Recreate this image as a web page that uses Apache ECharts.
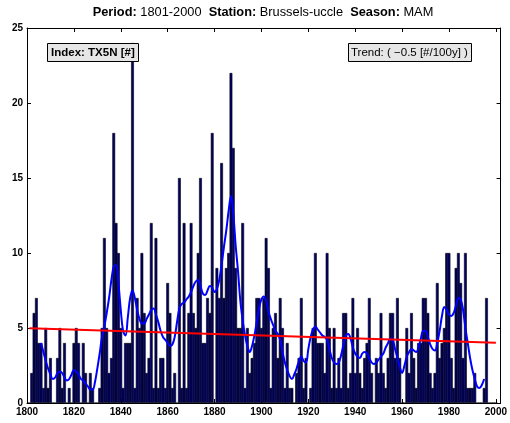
<!DOCTYPE html>
<html><head><meta charset="utf-8">
<script src="https://cdn.jsdelivr.net/npm/echarts@6/dist/echarts.min.js"></script>
<style>html,body{margin:0;padding:0;background:#fff}#c{width:510px;height:423px}</style>
</head><body><div id="c"></div>
<script>
// ---- data ----
const startYear = 1801;
const counts = [
  0,2,6,7,4,4,1,5,1,3,
  0,0,3,5,1,4,0,1,0,4,
  5,4,0,4,2,0,2,1,0,0,
  1,5,11,5,2,3,18,12,10,5,
  1,4,4,4,24,1,7,5,10,6,
  2,3,12,1,11,1,3,3,1,8,
  6,1,2,0,15,1,12,1,6,12,
  6,5,10,15,4,4,7,6,18,0,
  9,7,16,7,9,10,22,17,9,5,
  5,12,1,5,2,3,4,7,7,5,
  7,11,9,1,5,6,3,7,5,1,
  4,1,1,0,2,3,7,1,3,0,
  1,5,10,4,4,4,2,10,5,1,
  5,1,3,1,6,6,1,2,7,2,
  5,2,1,3,4,7,2,0,3,2,
  6,2,1,3,6,6,3,7,3,0,
  0,5,2,6,3,1,4,4,7,7,
  6,2,1,2,8,3,4,5,10,10,
  3,1,9,10,8,3,10,1,1,1,
  2,0,0,0,1,7,0,0,0,0
];
const smoothStart = 1806;
const smoothVals = [
  4.0,3.4,2.8,2.3,1.9,1.6,1.7,2.0,2.1,2.0,
  1.7,1.5,1.6,1.9,2.2,2.1,1.9,1.6,1.5,1.3,
  1.1,0.9,0.9,1.4,2.3,3.3,4.4,5.1,6.0,7.0,
  8.2,9.1,9.2,8.0,6.2,4.8,4.5,5.7,7.0,7.5,
  7.0,6.2,5.6,5.3,5.3,5.6,5.9,6.2,6.3,5.9,
  5.4,4.8,4.4,4.2,4.0,3.8,3.9,4.4,5.4,6.3,
  6.6,6.7,6.9,7.1,7.4,7.8,8.1,8.2,7.8,7.3,
  7.2,7.5,7.8,7.7,7.4,7.6,8.2,9.2,10.4,11.5,
  12.8,13.8,12.6,10.5,8.8,6.8,5.5,4.5,3.8,3.4,
  3.8,4.5,5.4,6.3,6.9,7.1,6.8,6.1,5.6,5.2,
  4.8,4.6,4.2,3.4,2.7,2.2,1.8,1.6,1.9,2.3,
  2.8,3.1,2.8,2.7,3.6,4.4,4.9,5.1,4.9,4.7,
  4.5,4.4,4.2,3.6,3.0,2.7,2.6,2.7,3.2,3.9,
  4.5,4.6,4.3,3.7,3.3,3.1,3.0,3.3,3.4,3.3,
  3.0,2.7,2.6,2.7,2.9,3.1,3.3,3.7,4.0,4.3,
  4.2,3.6,3.0,2.4,2.0,2.5,3.1,3.4,3.6,3.5,
  3.4,3.7,4.3,4.8,4.8,4.4,3.9,3.6,3.5,4.0,
  4.8,5.8,6.4,6.2,5.9,5.8,6.0,6.5,7.0,6.9,
  6.2,5.0,4.0,3.0,2.2,1.6,1.1,1.0,1.2,1.6
];
const trendYears = [1801, 2000];
const trendVals = [4.98, 4.02];
const xTicks = [1800,1820,1840,1860,1880,1900,1920,1940,1960,1980,2000];
const yTicks = [0,5,10,15,20,25];

// ---- build series data ----
const barData = counts.map((v, i) => [startYear + i, v]);
const smoothData = smoothVals.map((v, i) => [smoothStart + i, v]);
const trendData = trendYears.map((y, i) => [y, trendVals[i]]);

const FONT = '"Liberation Sans", Arial, Helvetica, sans-serif';
const chart = echarts.init(document.getElementById('c'), null, {renderer: 'canvas'});

function xAx(pos, showLabel) {
  return {
    type: 'value', min: 1800, max: 2002, position: pos,
    axisLine: {show: true, onZero: false, lineStyle: {color: '#000', width: 1}},
    axisTick: {show: true, inside: true, length: 4, customValues: xTicks, lineStyle: {color: '#000', width: 1}},
    axisLabel: {show: showLabel, customValues: xTicks, formatter: v => String(v),
      color: '#000', fontFamily: FONT, fontWeight: 'bold', fontSize: 10, margin: 4},
    splitLine: {show: false}
  };
}
function yAx(pos, showLabel) {
  return {
    type: 'value', min: 0, max: 25, interval: 5, position: pos,
    axisLine: {show: true, onZero: false, lineStyle: {color: '#000', width: 1}},
    axisTick: {show: true, inside: true, length: 4, customValues: yTicks, lineStyle: {color: '#000', width: 1}},
    axisLabel: {show: showLabel, customValues: yTicks, formatter: v => String(v),
      color: '#000', fontFamily: FONT, fontWeight: 'bold', fontSize: 10, margin: 4},
    splitLine: {show: false}
  };
}

chart.setOption({
  animation: false,
  backgroundColor: '#fff',
  title: [
    {
      text: '{b|Period:} 1801-2000  {b|Station:} Brussels-uccle  {b|Season:} MAM',
      left: 263, top: 6, textAlign: 'center', padding: 0,
      textStyle: {fontFamily: FONT, fontSize: 12.8, fontWeight: 'normal', color: '#000',
        rich: {b: {fontFamily: FONT, fontSize: 12.8, fontWeight: 'bold', color: '#000'}}}
    },
    {
      text: 'Index: TX5N [#]', left: 47, top: 43,
      backgroundColor: '#e6e6e6', borderColor: '#000', borderWidth: 1, padding: [4, 4, 3, 4],
      textStyle: {fontFamily: FONT, fontSize: 11.5, fontWeight: 'bold', color: '#000', lineHeight: 12}
    },
    {
      text: 'Trend: ( \u22120.5 [#/100y] )', left: 348, top: 43,
      backgroundColor: '#e6e6e6', borderColor: '#000', borderWidth: 1, padding: [4, 4, 3, 3],
      textStyle: {fontFamily: FONT, fontSize: 11.5, fontWeight: 'normal', color: '#000', lineHeight: 12}
    }
  ],
  grid: {left: 27, right: 8, top: 28, bottom: 20, containLabel: false},
  xAxis: [xAx('bottom', true), xAx('top', false)],
  yAxis: [yAx('left', true), yAx('right', false)],
  series: [
    {
      type: 'bar', xAxisIndex: 0, yAxisIndex: 0, data: barData,
      barWidth: 2.8, z: 2,
      itemStyle: {color: '#00006e', borderColor: '#000', borderWidth: 0.6}
    },
    {
      type: 'line', xAxisIndex: 0, yAxisIndex: 0, data: smoothData,
      smooth: 0.4, showSymbol: false, z: 3,
      lineStyle: {color: '#0000ff', width: 2}
    },
    {
      type: 'line', xAxisIndex: 0, yAxisIndex: 0, data: trendData,
      showSymbol: false, z: 4,
      lineStyle: {color: '#ff0000', width: 2}
    }
  ]
});
</script>
</body></html>
